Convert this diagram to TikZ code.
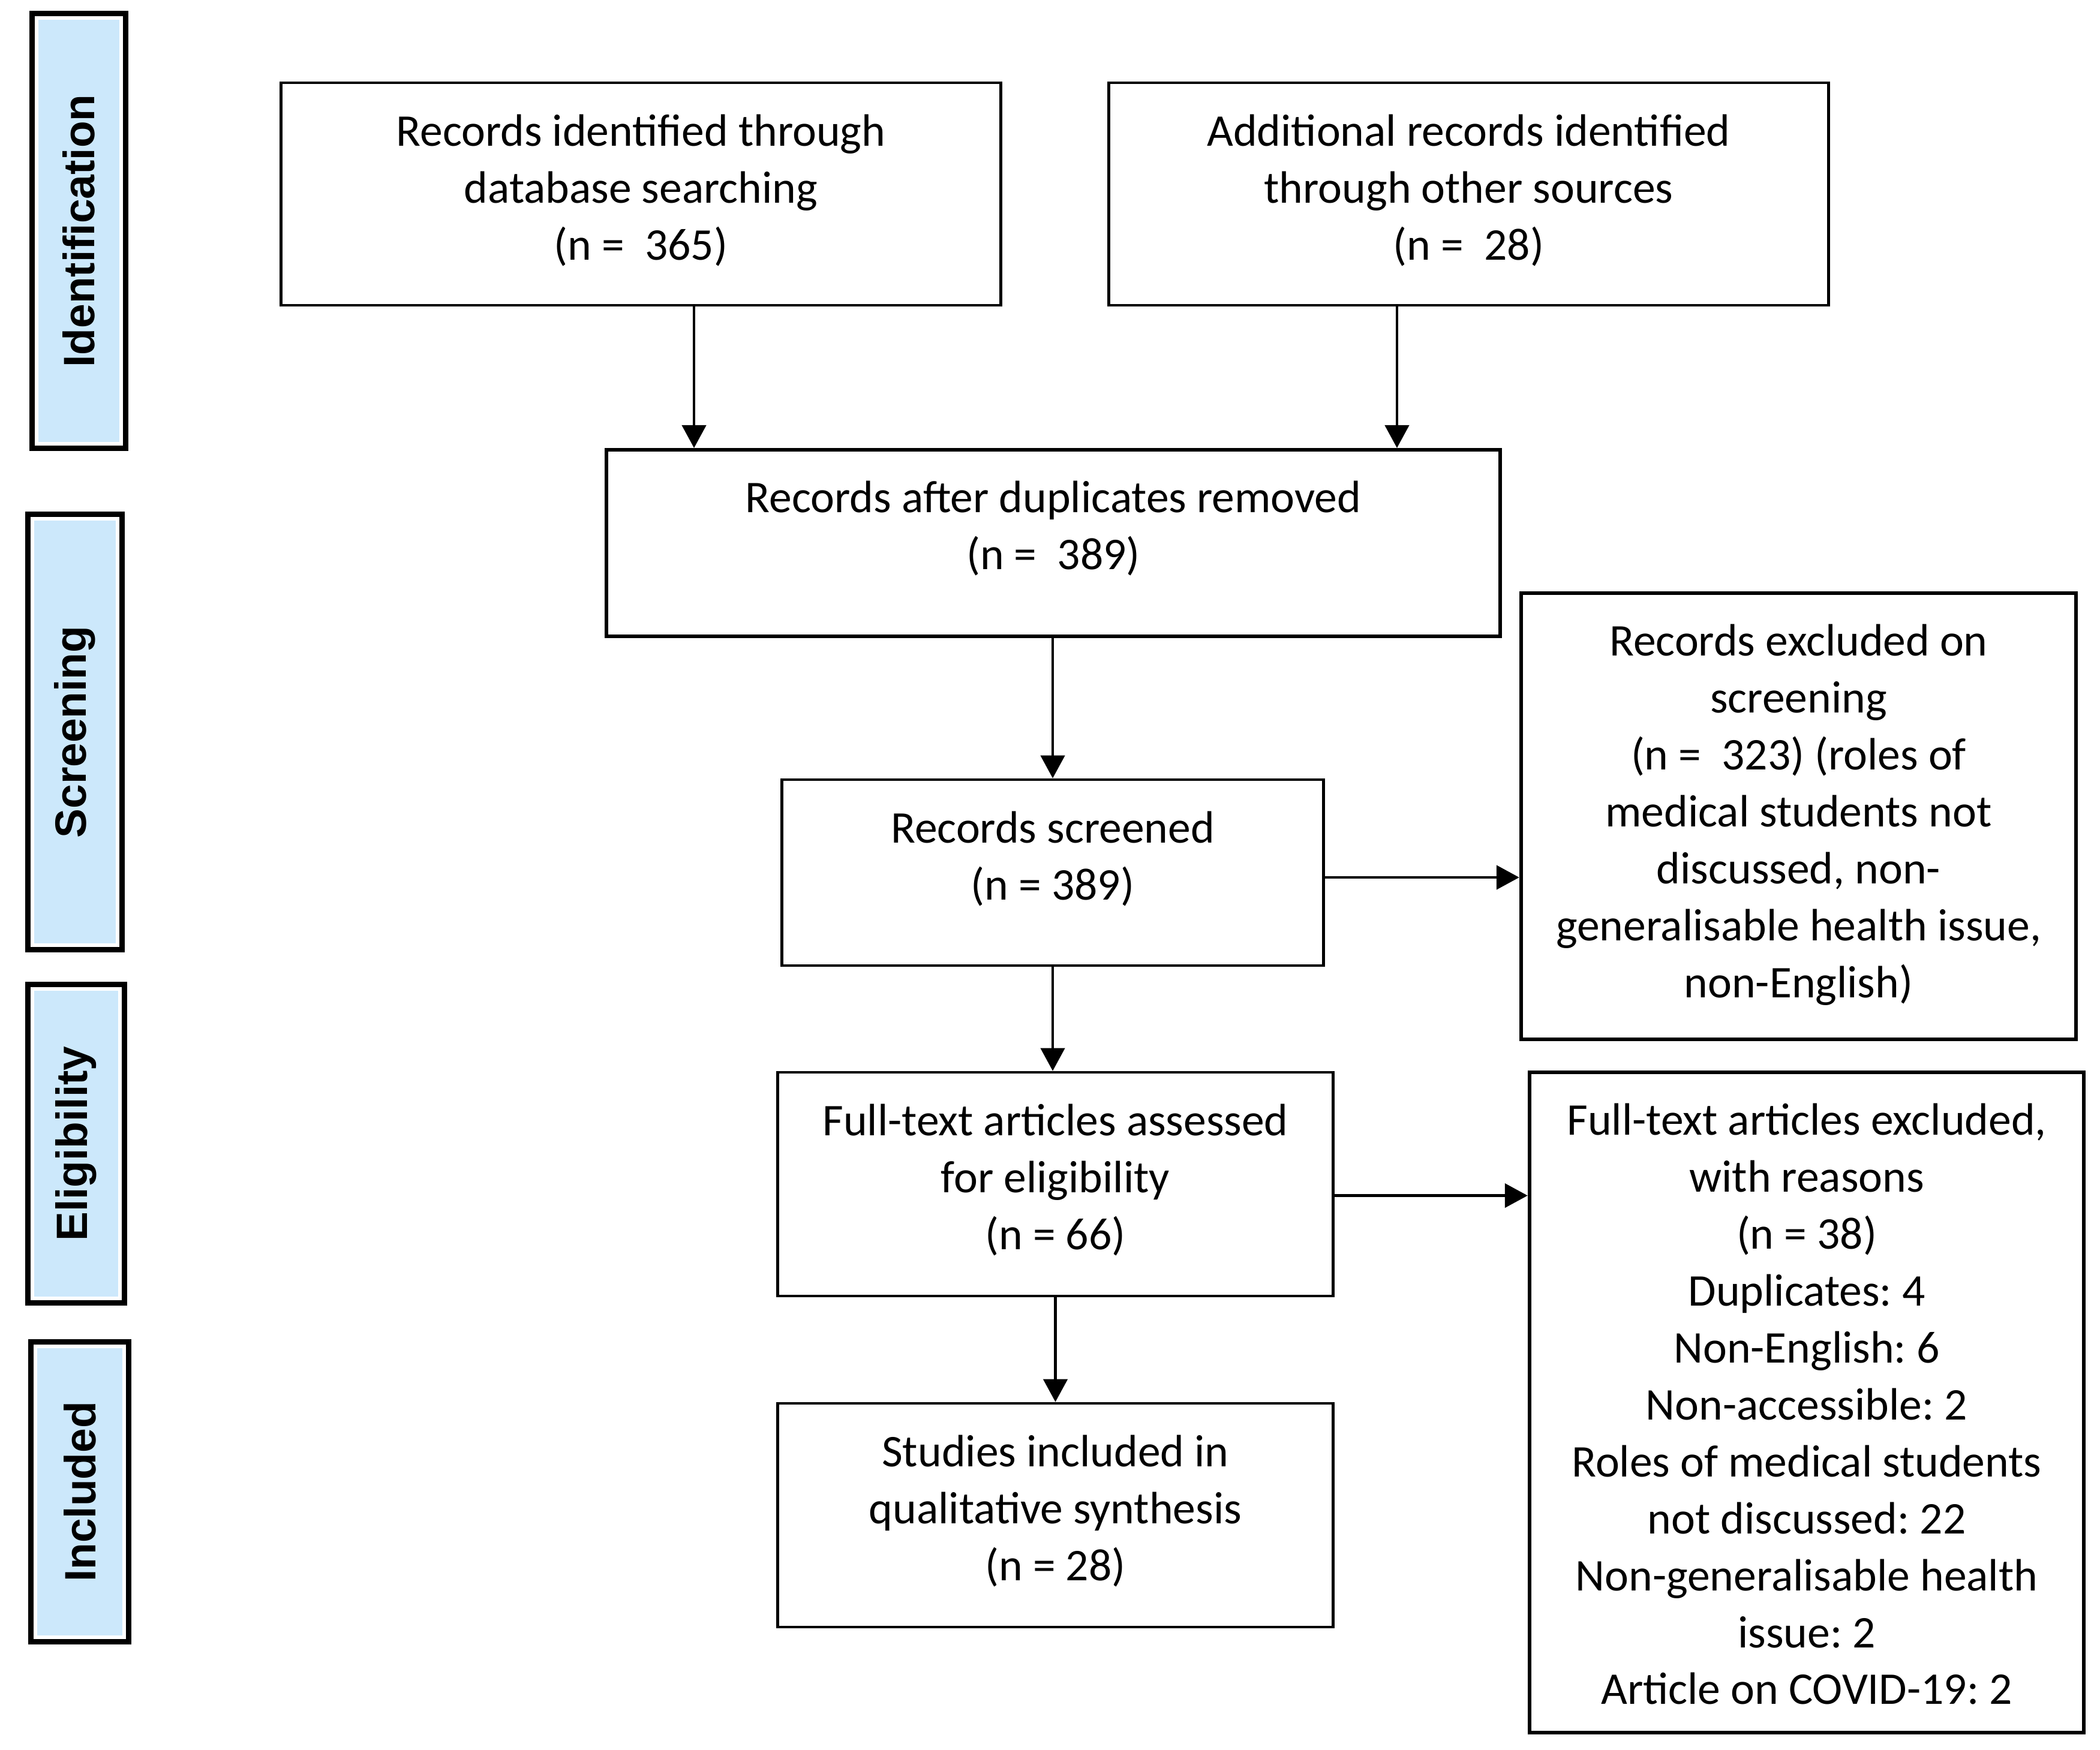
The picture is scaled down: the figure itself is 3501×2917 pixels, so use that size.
\documentclass[tikz,border=0pt]{standalone}
\usepackage{fontspec}
\setmainfont{Carlito}
\newfontfamily\phasefont{Liberation Sans}
\usetikzlibrary{arrows.meta}
\definecolor{phaseblue}{HTML}{CCE8FB}

\begin{document}
\begin{tikzpicture}[x=0.01cm, y=-0.01cm, >={Triangle[length=0.38cm, width=0.4cm]},
  box/.style={draw, line width=1.3pt, inner sep=0pt},
  heavy/.style={box, line width=1.7pt},
  txt/.style={label={[align=center, anchor=north, inner sep=0pt, yshift=-0.545cm,
    font=\frenchspacing\fontsize{21.5}{27}\selectfont]north:{#1}}},
  phase/.style={rotate=90, fill=phaseblue, draw=white, line width=0.06cm,
    preaction={draw=black, line width=0.24cm},
    font=\phasefont\bfseries\fontsize{20.8}{24}\selectfont},
  link/.style={->, line width=1.3pt}]

\useasboundingbox[fill=white] (0,0) rectangle (3501,2917);

\node[phase, minimum width=7.10cm, minimum height=1.41cm] (ident) at (131.5,385) {Identification};
\node[phase, minimum width=7.11cm, minimum height=1.42cm] (screen) at (125,1220.5) {Screening};
\node[phase, minimum width=5.16cm, minimum height=1.46cm] (elig) at (127,1907) {Eligibility};
\node[phase, minimum width=4.85cm, minimum height=1.48cm] (incl) at (133,2487.5) {Included};

\node[box, minimum width=11.99cm, minimum height=3.71cm,
  txt={Records identified through\\database searching\\(n =~ 365)}] (db) at (1068.5,323.5) {};
\node[box, minimum width=11.99cm, minimum height=3.71cm,
  txt={Additional records identified\\through other sources\\(n =~ 28)}] (other) at (2448.5,323.5) {};
\node[heavy, minimum width=14.90cm, minimum height=3.11cm,
  txt={Records after duplicates removed\\(n =~ 389)}] (dup) at (1756,905.5) {};
\node[box, minimum width=9.02cm, minimum height=3.10cm,
  txt={Records screened\\(n = 389)}] (scr) at (1755,1455) {};
\node[heavy, minimum width=9.25cm, minimum height=7.44cm,
  txt={Records excluded on\\screening\\(n =~ 323) (roles of\\medical students not\\discussed, non-\\generalisable health issue,\\non-English)}] (scrx) at (2998.5,1361) {};
\node[box, minimum width=9.25cm, minimum height=3.73cm,
  txt={Full-text articles assessed\\for eligibility\\(n = 66)}] (full) at (1759.5,1974.5) {};
\node[heavy, minimum width=9.24cm, minimum height=11.01cm,
  txt={Full-text articles excluded,\\with reasons\\(n = 38)\\Duplicates: 4\\Non-English: 6\\Non-accessible: 2\\Roles of medical students\\not discussed: 22\\Non-generalisable health\\issue: 2\\Article on COVID-19: 2}] (fullx) at (3012,2338.5) {};
\node[box, minimum width=9.25cm, minimum height=3.73cm,
  txt={Studies included in\\qualitative synthesis\\(n = 28)}] (qual) at (1759.5,2526.5) {};

\draw[link] ([xshift=0.885cm]db.south) -- ([xshift=0.885cm]db.south |- dup.north);
\draw[link] ([xshift=-1.195cm]other.south) -- ([xshift=-1.195cm]other.south |- dup.north);
\draw[link] (scr.north |- dup.south) -- (scr.north);
\draw[link] (scr.south) -- (scr.south |- full.north);
\draw[link] (full.south) -- (qual.north);
\draw[link] ([yshift=-0.08cm]scr.east) -- ([yshift=-0.08cm]scr.east -| scrx.west);
\draw[link] ([yshift=-0.19cm]full.east) -- ([yshift=-0.19cm]full.east -| fullx.west);

\end{tikzpicture}
\end{document}
